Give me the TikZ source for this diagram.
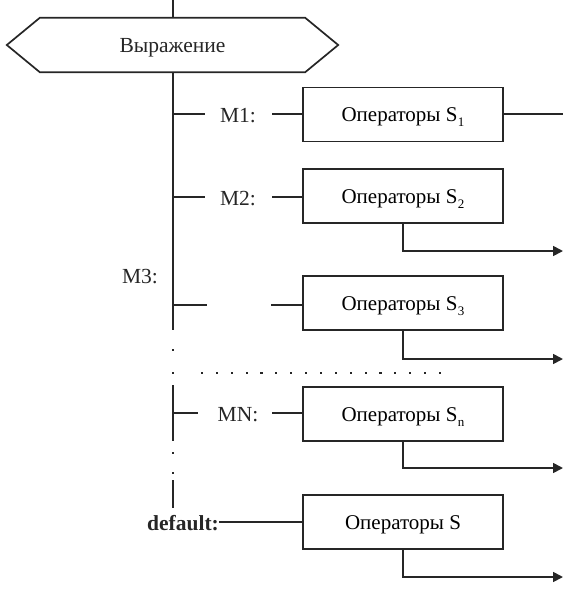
\documentclass[tikz,border=0pt]{standalone}
\usepackage{fontspec}
\setmainfont{Liberation Serif}
\usetikzlibrary{arrows.meta}
\newcommand{\opsub}[1]{\kern0.5pt\raisebox{-5pt}{\fontsize{13}{13}\selectfont #1}}
\newcommand{\optext}[1]{\raisebox{-3pt}[\height][\depth]{#1}}
\begin{document}
\begin{tikzpicture}[x=1pt,y=-1pt,
  every node/.style={font=\fontsize{21.5}{24}\selectfont},
  ln/.style={line width=1.7pt,draw=black!85},
  opbox/.style={draw=black!85,line width=1.7pt,minimum width=200pt,minimum height=54pt,inner sep=0pt,font=\fontsize{21}{24}\selectfont},
  lbl/.style={inner sep=0pt,text=black!85},
  arr/.style={ln,-{Triangle[length=10pt,width=10pt]}},
  dotm/.style={fill=black!85,inner sep=0pt,minimum size=2.2pt,draw=none}]
\useasboundingbox (0,0) rectangle (563,603);
% hexagon
\node (expr) [minimum width=265pt,minimum height=54pt,inner sep=0pt,text=black!85] at (172.5,45) {\optext{Выражение}};
\draw[ln,line join=miter] (expr.north west) -- (expr.north east) -- ([xshift=33pt]expr.east) -- (expr.south east) -- (expr.south west) -- ([xshift=-33pt]expr.west) -- cycle;
\coordinate (top) at (173,0);
\draw[ln] (top) -- (top|-expr.north);
% spine
\coordinate (s1a) at (173,72);
\coordinate (s1b) at (173,330);
\coordinate (s2a) at (173,385);
\coordinate (s2b) at (173,441);
\coordinate (s3a) at (173,480);
\coordinate (s3b) at (173,508);
\draw[ln] (s1a) -- (s1b);
\draw[ln] (s2a) -- (s2b);
\draw[ln] (s3a) -- (s3b);
\foreach \yy in {350,373,453,473} \node[dotm] (d\yy) at (173,\yy) {};
\foreach \i in {0,...,16} \node[dotm] (h\i) at ({202+\i*14.875},373) {};
% boxes
\node[opbox] (b1) at (403,114.5) {\optext{Операторы S\opsub{1}}};
\node[opbox] (b2) at (403,196) {\optext{Операторы S\opsub{2}}};
\node[opbox] (b3) at (403,303) {\optext{Операторы S\opsub{3}}};
\node[opbox] (bn) at (403,414) {\optext{Операторы S\opsub{n}}};
\node[opbox] (bs) at (403,522) {\optext{Операторы S}};
% labels
\node[lbl] (m1) at (238,116) {M1:};
\node[lbl] (m2) at (238,199) {M2:};
\node[lbl] (m3) at (140,277) {M3:};
\node[lbl] (mn) at (238,415) {MN:};
\node[lbl,font=\fontsize{21.5}{24}\selectfont\bfseries] (df) at (183,523) {default:};
% branches
\coordinate (j1) at (173,114);
\coordinate (j2) at (173,197);
\coordinate (j3) at (173,305);
\coordinate (jn) at (173,413);
\draw[ln] (j1) -- ++(32,0);
\coordinate (k1) at (272,114);
\draw[ln] (k1) -- (k1-|b1.west);
\draw[ln] (j2) -- ++(32,0);
\coordinate (k2) at (272,197);
\draw[ln] (k2) -- (k2-|b2.west);
\draw[ln] (j3) -- ++(34,0);
\coordinate (k3) at (271,305);
\draw[ln] (k3) -- (k3-|b3.west);
\draw[ln] (jn) -- ++(25,0);
\coordinate (kn) at (272,413);
\draw[ln] (kn) -- (kn-|bn.west);
\coordinate (dl) at (219,522);
\draw[ln] (dl) -- (dl-|bs.west);
% exits
\coordinate (e1) at (563,114);
\draw[ln] (e1-|b1.east) -- (e1);
\coordinate (e2) at (563,251);
\coordinate (e3) at (563,359);
\coordinate (en) at (563,468);
\coordinate (es) at (563,577);
\draw[arr] (b2.south) |- (e2);
\draw[arr] (b3.south) |- (e3);
\draw[arr] (bn.south) |- (en);
\draw[arr] (bs.south) |- (es);
\end{tikzpicture}
\end{document}
